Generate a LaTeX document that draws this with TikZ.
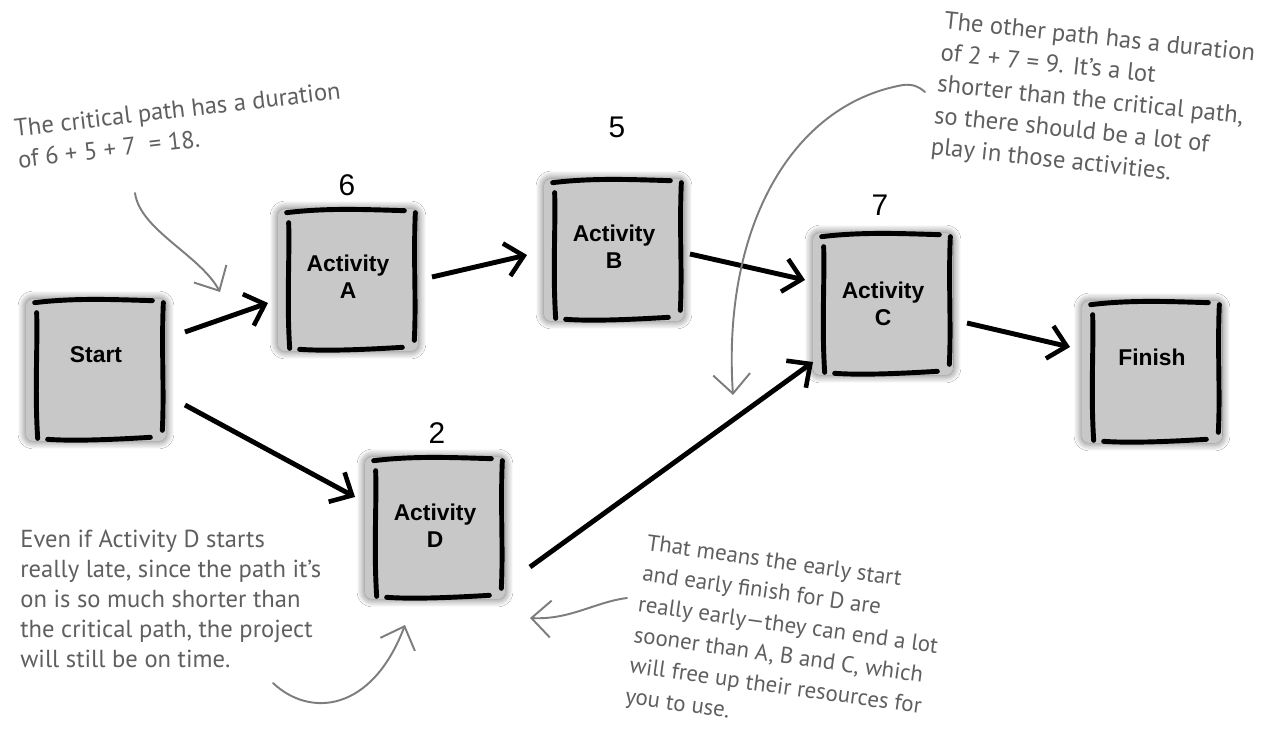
\documentclass[tikz,border=0pt]{standalone}
\usepackage{fontspec}
\setmainfont{Liberation Sans}
\newfontfamily\handfont{PT Sans}
\usetikzlibrary{arrows.meta,calc,shadows.blur}
\definecolor{boxgray}{RGB}{200,200,200}
\definecolor{annot}{RGB}{95,95,95}
\definecolor{annotline}{RGB}{125,125,125}
\begin{document}
\begin{tikzpicture}[x=0.02cm,y=-0.02cm,
  box/.style={rectangle, minimum width=2.8cm, minimum height=2.84cm, fill=boxgray, rounded corners=4pt, inner sep=0pt,
    blur shadow={shadow xshift=0pt, shadow yshift=0pt, shadow blur radius=4.5pt, shadow opacity=65, shadow blur steps=8}},
  boxtext/.style={font=\fontsize{13}{15.3}\selectfont\bfseries, align=center, text=black, inner sep=0pt},
  num/.style={font=\fontsize{17}{19}\selectfont, inner sep=0pt},
  rim/.style={line width=2.8pt, line cap=round, black},
  arr/.style={line width=2.8pt, -{Straight Barb[length=10pt,width=19pt,line width=2.6pt]}},
  note/.style={font=\handfont\fontsize{14}{18}\selectfont, text=annot, align=left, inner sep=0pt, anchor=north west},
  pointer/.style={annotline, line width=1.1pt, line cap=round, -{Straight Barb[length=11pt,width=21pt,line width=1.1pt]}}
]
\useasboundingbox (0,0) rectangle (1265,729);
\fill[white] (0,0) rectangle (1265,729);

% boxes
\node[box] (Start) at (96,370) {};
\node[box] (A) at (348,280) {};
\node[box] (B) at (614,250) {};
\node[box] (C) at (883,304) {};
\node[box] (D) at (435,528) {};
\node[box] (Finish) at (1152,372) {};

\foreach \n in {Start,A,B,C,D,Finish}{
  \draw[rim] ($(\n.north west)+(9,4)$) .. controls ($(\n.north)+(-20,-1)$) and ($(\n.north)+(20,1)$) .. ($(\n.north east)+(-14,2)$);
  \draw[rim] ($(\n.north west)+(11,14)$) .. controls ($(\n.west)+(12,-20)$) and ($(\n.west)+(9,20)$) .. ($(\n.south west)+(12,-3)$);
  \draw[rim] ($(\n.north east)+(-3,4)$) .. controls ($(\n.east)+(-5,-20)$) and ($(\n.east)+(-2,20)$) .. ($(\n.south east)+(-4,-11)$);
  \draw[rim] ($(\n.south west)+(22,-2)$) .. controls ($(\n.south)+(-20,0)$) and ($(\n.south)+(20,-2)$) .. ($(\n.south east)+(-16,-4)$);
}

% box texts
\node[boxtext] (tStart) at ($(Start)+(0,-15)$) {Start};
\node[boxtext] (tA) at ($(A)+(0,-3)$) {Activity\\A};
\node[boxtext] (tB) at ($(B)+(0,-3)$) {Activity\\B};
\node[boxtext] (tC) at ($(C)+(0,0)$) {Activity\\C};
\node[boxtext] (tD) at ($(D)+(0,-2)$) {Activity\\D};
\node[boxtext] (tFinish) at ($(Finish)+(0,-15)$) {Finish};

% durations
\node[num] (n6) at (347,185) {6};
\node[num] (n5) at (617,127) {5};
\node[num] (n7) at (880,205) {7};
\node[num] (n2) at (437,433) {2};

% connectors
\draw[arr] ($(Start)+(89,-38)$) -- ($(A)+(-80,23)$);
\draw[arr] ($(Start)+(89,35)$) -- ($(D)+(-80,-31)$);
\draw[arr] ($(A)+(84,-3)$) -- ($(B)+(-87,5)$);
\draw[arr] ($(B)+(76,4)$) -- ($(C)+(-78,-24)$);
\draw[arr] ($(D)+(95,39)$) -- ($(C)+(-70,58)$);
\draw[arr] ($(C)+(84,19)$) -- ($(Finish)+(-82,-25)$);

% annotations
\node[note, rotate=6.6] (note1) at (13,119) {The critical path has a duration\\of 6 + 5 + 7 \ = 18.};
\node[note, rotate=-6] (note2) at (945,11) {The other path has a duration\\of 2 + 7 = 9. It’s a lot\\shorter than the critical path,\\so there should be a lot of\\play in those activities.};
\node[note, font=\handfont\fontsize{14}{17}\selectfont] (note3) at (20,530) {Even if Activity D starts\\really late, since the path it’s\\on is so much shorter than\\the critical path, the project\\will still be on time.};
\node[note, rotate=-8, font=\handfont\fontsize{13}{17.6}\selectfont] (note4) at (648,534) {That means the early start\\and early finish for D are\\really early—they can end a lot\\sooner than A, B and C, which\\will free up their resources for\\you to use.};

% pointers
\coordinate (p1s) at (135,193);
\coordinate (p1e) at (220,292);
\draw[pointer] (p1s) .. controls (140,230) and (200,255) .. (p1e);
\coordinate (p2s) at (925,92);
\coordinate (p2m) at (903,85);
\coordinate (p2e) at (733,395);
\draw[pointer] (p2s) .. controls (918,86) and (912,84) .. (p2m) .. controls (790,105) and (722,230) .. (p2e);
\coordinate (p3s) at (273,683);
\coordinate (p3e) at (405,625);
\draw[pointer] (p3s) .. controls (310,718) and (372,712) .. (p3e);
\coordinate (p4s) at (627,598);
\coordinate (p4e) at (530,618);
\draw[pointer] (p4s) .. controls (595,602) and (570,620) .. (p4e);
\end{tikzpicture}
\end{document}
